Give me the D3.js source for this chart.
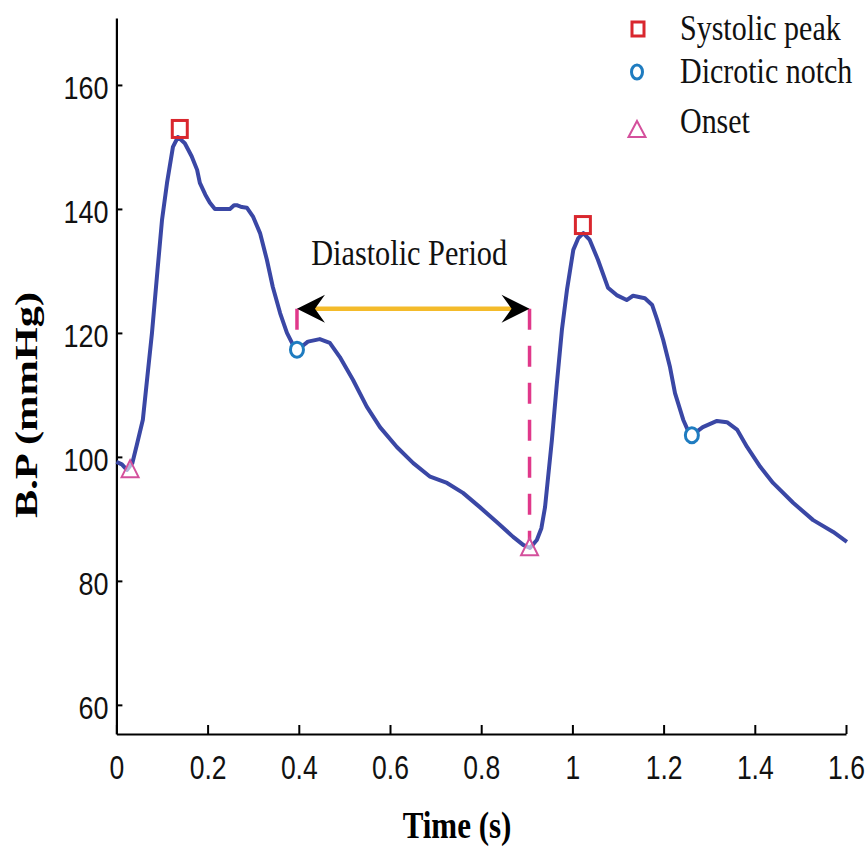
<!DOCTYPE html>
<html>
<head>
<meta charset="utf-8">
<script src="https://cdn.jsdelivr.net/npm/d3@7"></script>
<style>
  html, body { margin: 0; padding: 0; background: #fff; }
  svg { display: block; }
</style>
</head>
<body>
<div id="chart"></div>
<script>
// Señal de presión arterial
const timeS = [0.000, 0.012, 0.023, 0.035, 0.045, 0.058, 0.068, 0.078, 0.090, 0.100,
  0.111, 0.124, 0.135, 0.150, 0.165, 0.177, 0.183, 0.195, 0.205, 0.216,
  0.249, 0.258, 0.264, 0.275, 0.286, 0.300, 0.315, 0.330, 0.343, 0.359,
  0.374, 0.387, 0.398, 0.410, 0.420, 0.446, 0.468, 0.490, 0.519, 0.549,
  0.578, 0.615, 0.651, 0.688, 0.725, 0.760, 0.797, 0.834, 0.870, 0.892,
  0.907, 0.922, 0.932, 0.940, 0.955, 0.966, 0.977, 0.988, 1.002, 1.013,
  1.024, 1.038, 1.056, 1.078, 1.097, 1.119, 1.133, 1.159, 1.175, 1.186,
  1.199, 1.214, 1.225, 1.243, 1.255, 1.262, 1.275, 1.286, 1.317, 1.339,
  1.361, 1.383, 1.412, 1.440, 1.484, 1.528, 1.572, 1.602];
const bpMmHg = [99.2, 98.8, 97.9, 99.0, 102.0, 106.0, 113.0, 120.0, 130.0, 138.2,
  144.2, 150.0, 151.6, 150.6, 148.5, 146.3, 144.2, 142.3, 141.0, 140.0,
  140.0, 140.6, 140.6, 140.3, 140.2, 138.7, 136.1, 131.8, 127.4, 123.2,
  120.0, 118.1, 117.4, 118.0, 118.6, 119.0, 118.4, 116.1, 112.4, 108.1,
  104.8, 101.6, 99.0, 96.8, 95.8, 94.2, 91.9, 89.5, 87.1, 85.8,
  85.3, 86.6, 88.5, 91.9, 102.7, 111.9, 120.5, 126.9, 133.4, 135.3,
  136.1, 135.0, 131.8, 127.3, 126.1, 125.3, 126.0, 125.6, 124.5, 122.1,
  118.9, 114.5, 110.3, 106.0, 104.0, 103.5, 104.2, 104.8, 105.8, 105.6,
  104.4, 101.6, 98.4, 95.8, 92.6, 89.8, 87.9, 86.3];

// Puntos característicos
const peakT = [0.139, 1.023], peakBP = [152.9, 137.4];
const notchT = [0.396, 1.262], notchBP = [117.3, 103.5];
const onsetT = [0.030, 0.906], onsetBP = [98.1, 85.5];

// Anotación del periodo diastólico
const diastoleStart = 0.396, diastoleEnd = 0.906, diastoleLevel = 123.9;
const diastoleLabel = "Diastolic Period", diastoleLabelT = 0.642, diastoleLabelBP = 131;

// Ejes
const xTicks = [0, 0.2, 0.4, 0.6, 0.8, 1, 1.2, 1.4, 1.6];
const yTicks = [60, 80, 100, 120, 140, 160];
const xDomain = [0, 1.6], yDomain = [55.3, 170.8];
const xLabel = "Time (s)", yLabel = "B.P (mmHg)";
const legendLabels = ["Systolic peak", "Dicrotic notch", "Onset"];

const width = 866, height = 848;
const C = { line: "#3a47a5", peak: "#d9272e", notch: "#1f7cc0", onset: "#d4509c",
  dash: "#e0388a", arrow: "#f4bb2a" };

const svg = d3.select("#chart").append("svg")
  .attr("width", width).attr("height", height);

const x = d3.scaleLinear().domain(xDomain).range([116.4, 846]);
const y = d3.scaleLinear().domain(yDomain).range([734, 18]);

// la figura original está estirada en vertical: se estira el texto igual
function stretchY(sel, s) {
  sel.each(function () {
    const yy = +(this.getAttribute("y") || 0);
    this.setAttribute("y", yy / s);
    this.setAttribute("transform", `scale(1,${s})`);
  });
}

// Eje X
const gx = svg.append("g").attr("transform", `translate(0,${y.range()[0]})`)
  .call(d3.axisBottom(x).tickValues(xTicks).tickFormat(d => d).tickSizeInner(-9).tickSizeOuter(0));
gx.select(".domain").attr("stroke", "#000").attr("stroke-width", 2.2);
gx.selectAll(".tick line").attr("stroke", "#000").attr("stroke-width", 2);
gx.selectAll(".tick text")
  .attr("y", 45).attr("dy", 0)
  .attr("font-family", "'Liberation Sans', Arial, sans-serif")
  .attr("font-size", 26.5).attr("fill", "#111")
  .call(stretchY, 1.25);

// Eje Y
const gy = svg.append("g").attr("transform", `translate(${x.range()[0]},0)`)
  .call(d3.axisLeft(y).tickValues(yTicks).tickSizeInner(-6).tickSizeOuter(0));
gy.select(".domain").attr("stroke", "#000").attr("stroke-width", 2.2);
gy.selectAll(".tick line").attr("stroke", "#000").attr("stroke-width", 2);
gy.selectAll(".tick text")
  .attr("x", -8).attr("y", 14).attr("dy", 0)
  .attr("font-family", "'Liberation Sans', Arial, sans-serif")
  .attr("font-size", 27).attr("fill", "#111")
  .call(stretchY, 1.18);

// Títulos de ejes
svg.append("g").attr("transform", "translate(457,838)")
  .append("text")
  .attr("text-anchor", "middle")
  .attr("font-family", "'Liberation Serif', 'Times New Roman', serif")
  .attr("font-weight", "bold").attr("font-size", 31)
  .text(xLabel)
  .call(stretchY, 1.25);

svg.append("g").attr("transform", "translate(37,405) rotate(-90)")
  .append("text")
  .attr("text-anchor", "middle")
  .attr("font-family", "'Liberation Serif', 'Times New Roman', serif")
  .attr("font-weight", "bold").attr("font-size", 31)
  .attr("textLength", 226).attr("lengthAdjust", "spacingAndGlyphs")
  .text(yLabel);

// Líneas discontinuas verticales
const dashData = [
  { t: diastoleStart, from: diastoleLevel, to: notchBP[0] + 1.3 },
  { t: diastoleEnd, from: diastoleLevel, to: onsetBP[1] + 1 }
];
svg.selectAll(".vdash").data(dashData).enter().append("line")
  .attr("class", "vdash")
  .attr("x1", d => x(d.t)).attr("x2", d => x(d.t))
  .attr("y1", d => y(d.from)).attr("y2", d => y(d.to))
  .attr("stroke", C.dash).attr("stroke-width", 3.5)
  .attr("stroke-dasharray", "21,16");

// Flecha de doble punta
const ay = y(diastoleLevel), ax1 = x(diastoleStart), ax2 = x(diastoleEnd);
svg.append("line")
  .attr("x1", ax1 + 14).attr("x2", ax2 - 14)
  .attr("y1", ay).attr("y2", ay)
  .attr("stroke", C.arrow).attr("stroke-width", 4.5);
function arrowHead(tipX, dir) {
  const L = 28, H = 14, N = 18;
  return `M${tipX},${ay} L${tipX + dir * L},${ay - H} L${tipX + dir * N},${ay} L${tipX + dir * L},${ay + H} Z`;
}
svg.append("path").attr("d", arrowHead(ax1, 1)).attr("fill", "#000");
svg.append("path").attr("d", arrowHead(ax2, -1)).attr("fill", "#000");

svg.append("text")
  .attr("x", x(diastoleLabelT)).attr("y", y(diastoleLabelBP))
  .attr("text-anchor", "middle")
  .attr("font-family", "'Liberation Serif', 'Times New Roman', serif")
  .attr("font-size", 30.3).attr("fill", "#111")
  .text(diastoleLabel)
  .call(stretchY, 1.16);

// Curva de presión
const points = timeS.map((t, i) => [t, bpMmHg[i]]);
svg.append("path")
  .datum(points)
  .attr("fill", "none")
  .attr("stroke", C.line)
  .attr("stroke-width", 4)
  .attr("stroke-linejoin", "round")
  .attr("d", d3.line().x(d => x(d[0])).y(d => y(d[1])));

// Marcadores
function square(g, cx, cy, w, h) {
  g.append("rect").attr("x", cx - w / 2).attr("y", cy - h / 2)
    .attr("width", w).attr("height", h)
    .attr("fill", "none").attr("stroke", C.peak).attr("stroke-width", 3);
}
function ring(g, cx, cy, rx, ry) {
  g.append("ellipse").attr("cx", cx).attr("cy", cy).attr("rx", rx).attr("ry", ry)
    .attr("fill", "#fff").attr("stroke", C.notch).attr("stroke-width", 3);
}
function tri(g, cx, cy, w, h) {
  g.append("path")
    .attr("d", `M${cx},${cy - h / 2} L${cx + w / 2},${cy + h / 2} L${cx - w / 2},${cy + h / 2} Z`)
    .attr("fill", "#fff").attr("fill-opacity", 0.6)
    .attr("stroke", C.onset).attr("stroke-width", 2);
}
const marks = svg.append("g");
peakT.forEach((t, i) => square(marks, x(t), y(peakBP[i]), 15, 17));
notchT.forEach((t, i) => ring(marks, x(t), y(notchBP[i]), 6.5, 7.5));
onsetT.forEach((t, i) => tri(marks, x(t), y(onsetBP[i]), 17, 17));

// Leyenda
const legend = svg.append("g");
square(legend, 638, 29, 12, 14);
ring(legend, 637, 72, 5.5, 7);
tri(legend, 637, 129, 17, 16);
const legendY = [40, 83, 133];
legend.selectAll("text").data(legendLabels).enter().append("text")
  .attr("x", 680).attr("y", (d, i) => legendY[i])
  .attr("font-family", "'Liberation Serif', 'Times New Roman', serif")
  .attr("font-size", 30).attr("fill", "#111")
  .text(d => d)
  .call(stretchY, 1.17);
</script>
</body>
</html>
